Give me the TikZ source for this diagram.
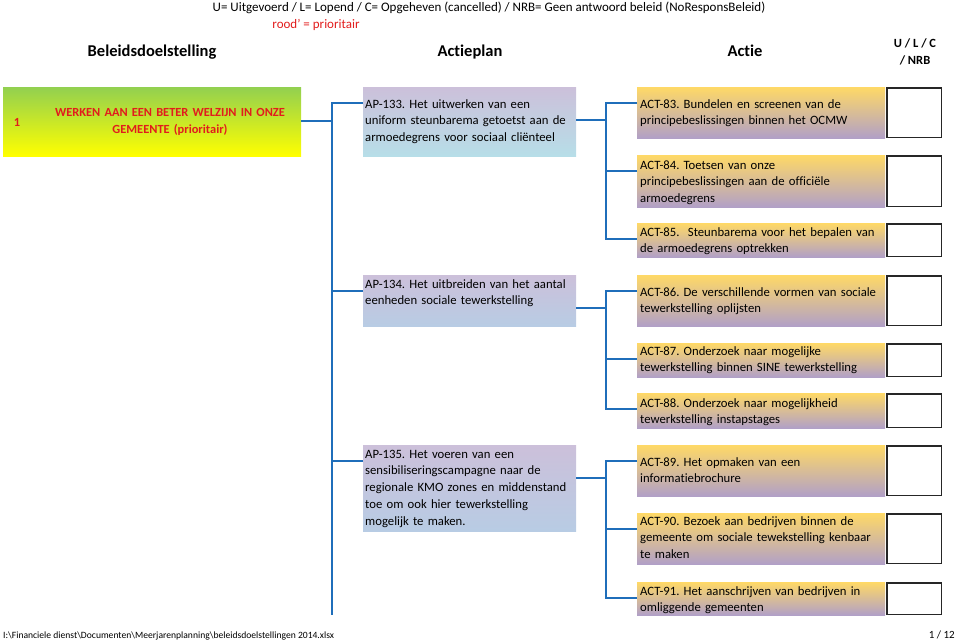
\documentclass[tikz,border=0pt]{standalone}
\usepackage{fontspec}
\setmainfont{Carlito}[Ligatures=NoCommon]
\usetikzlibrary{calc}
\definecolor{linkblue}{RGB}{31,110,186}
\definecolor{goaltop}{RGB}{146,208,80}
\definecolor{goalbot}{RGB}{255,255,0}
\definecolor{aptop}{RGB}{204,192,218}
\definecolor{apbotA}{RGB}{183,222,232}
\definecolor{apbotB}{RGB}{184,204,228}
\definecolor{acttop}{RGB}{255,217,102}
\definecolor{actbot}{RGB}{177,160,199}
\definecolor{redtxt}{RGB}{226,28,28}
\frenchspacing
\begin{document}
\begin{tikzpicture}[x=1pt,y=-1pt,
  boxbase/.style={rectangle, inner sep=0pt, outer sep=0pt, anchor=north west},
  goalbox/.style={boxbase, top color=goaltop, bottom color=goalbot},
  apboxA/.style={boxbase, minimum width=213pt, top color=aptop, bottom color=apbotA},
  apboxB/.style={boxbase, minimum width=213pt, top color=aptop, bottom color=apbotB},
  actbox/.style={boxbase, minimum width=248pt, top color=acttop, bottom color=actbot},
  checkbox/.style={boxbase, draw=black!85, line width=1.5pt, fill=white, minimum width=54.5pt},
  bodytxt/.style={anchor=base west, inner sep=0pt, align=left, text width=250pt,
    font=\fontsize{12.7}{16.8}\selectfont},
  link/.style={draw=linkblue, line width=2.6pt},
  hdr/.style={inner sep=0pt, anchor=base, font=\fontsize{16.5}{19}\selectfont\bfseries}
]
\useasboundingbox (0,0) rectangle (960,640);

% header
\node[inner sep=0pt, anchor=base, font=\fontsize{13}{15}\selectfont] (legend) at (489,11) {U= Uitgevoerd / L= Lopend / C= Opgeheven (cancelled) / NRB= Geen antwoord beleid (NoResponsBeleid)};
\node[inner sep=0pt, anchor=base, text=redtxt, font=\fontsize{13}{15}\selectfont] (rood) at (316,28) {rood' = prioritair};
\node[hdr] (h1) at (152,56) {Beleidsdoelstelling};
\node[hdr] (h2) at (470,56) {Actieplan};
\node[hdr] (h3) at (745,56) {Actie};
\node[inner sep=0pt, anchor=base, font=\fontsize{12.5}{14}\selectfont\bfseries] (h4a) at (915,47) {U / L / C};
\node[inner sep=0pt, anchor=base, font=\fontsize{12.5}{14}\selectfont\bfseries] (h4b) at (915,64) {/ NRB};

% goal
\node[goalbox, minimum width=298pt, minimum height=69pt] (goal) at (3,87) {};
\node[inner sep=0pt, anchor=base, text=redtxt, font=\fontsize{12.4}{14}\selectfont\bfseries] (goalnr) at (17,126) {1};
\node[inner sep=0pt, anchor=base, text=redtxt, text width=270pt, align=center, font=\fontsize{12.4}{17.5}\selectfont\bfseries] (goaltxt) at (170,116) {WERKEN AAN EEN BETER WELZIJN IN ONZE\\GEMEENTE (prioritair)};

% action plans
\node[apboxA, minimum height=69pt] (ap133) at (363,87) {};
\node[apboxB, minimum height=51pt] (ap134) at (363,275) {};
\node[apboxB, minimum height=86pt] (ap135) at (363,445) {};
\node[bodytxt] (t133) at (365,108) {AP-133. Het uitwerken van een\\uniform steunbarema getoetst aan de\\armoedegrens voor sociaal cliënteel};
\node[bodytxt] (t134) at (365,288) {AP-134. Het uitbreiden van het aantal\\eenheden sociale tewerkstelling};
\node[bodytxt] (t135) at (365,458) {AP-135. Het voeren van een\\sensibiliseringscampagne naar de\\regionale KMO zones en middenstand\\toe om ook hier tewerkstelling\\mogelijk te maken.};

% actions
\node[actbox, minimum height=51pt] (act83) at (637,87) {};
\node[actbox, minimum height=52pt] (act84) at (637,155) {};
\node[actbox, minimum height=34pt] (act85) at (637,223) {};
\node[actbox, minimum height=51pt] (act86) at (637,275) {};
\node[actbox, minimum height=34pt] (act87) at (637,343) {};
\node[actbox, minimum height=35pt] (act88) at (637,393) {};
\node[actbox, minimum height=51pt] (act89) at (637,445) {};
\node[actbox, minimum height=51pt] (act90) at (637,513) {};
\node[actbox, minimum height=33pt] (act91) at (637,582) {};

\node[bodytxt] (t83) at (640,108) {ACT-83. Bundelen en screenen van de\\principebeslissingen binnen het OCMW};
\node[bodytxt] (t84) at (640,169) {ACT-84. Toetsen van onze\\principebeslissingen aan de officiële\\armoedegrens};
\node[bodytxt] (t85) at (640,236) {ACT-85.\ \ Steunbarema voor het bepalen van\\de armoedegrens optrekken};
\node[bodytxt] (t86) at (640,296) {ACT-86. De verschillende vormen van sociale\\tewerkstelling oplijsten};
\node[bodytxt] (t87) at (640,355) {ACT-87. Onderzoek naar mogelijke\\tewerkstelling binnen SINE tewerkstelling};
\node[bodytxt] (t88) at (640,407) {ACT-88. Onderzoek naar mogelijkheid\\tewerkstelling instapstages};
\node[bodytxt] (t89) at (640,466) {ACT-89. Het opmaken van een\\informatiebrochure};
\node[bodytxt] (t90) at (640,525) {ACT-90. Bezoek aan bedrijven binnen de\\gemeente om sociale tewekstelling kenbaar\\te maken};
\node[bodytxt] (t91) at (640,595) {ACT-91. Het aanschrijven van bedrijven in\\omliggende gemeenten};

% check boxes
\foreach \n/\h in {83/51,84/52,85/34,86/51,87/34,88/35,89/51,90/51,91/33}{
  \node[checkbox, minimum height=\h pt-1.5pt] (cb\n) at ($(act\n.north east)+(1.75,0.75)$) {};
}

% attachment points
\foreach \n in {ap133,ap134,ap135}{
  \coordinate (\n-in) at ($(\n.north west)+(0,16)$);
  \coordinate (\n-out) at ($(\n.north east)+(0,33)$);
}
\foreach \n in {83,...,91}{
  \coordinate (act\n-in) at ($(act\n.north west)+(0,16)$);
}
\coordinate (goal-out) at ($(goal.north east)+(0,34)$);
\coordinate (trunkend) at (332,615);

% connectors
\draw[link] (goal-out) -- (goal-out -| trunkend);
\draw[link] (ap133-in) -- (ap133-in -| trunkend) -- (trunkend);
\draw[link] (ap134-in) -- (ap134-in -| trunkend);
\draw[link] (ap135-in) -- (ap135-in -| trunkend);

\draw[link] (ap133-out) -- ++(30,0);
\draw[link] (act83-in) -- ++(-31,0) |- (act85-in);
\draw[link] (act84-in) -- ++(-31,0);

\draw[link] (ap134-out) -- ++(30,0);
\draw[link] (act86-in) -- ++(-31,0) |- (act88-in);
\draw[link] (act87-in) -- ++(-31,0);

\draw[link] (ap135-out) -- ++(30,0);
\draw[link] (act89-in) -- ++(-31,0) |- (act91-in);
\draw[link] (act90-in) -- ++(-31,0);

% footer
\node[inner sep=0pt, anchor=base west, font=\fontsize{9.6}{11}\selectfont] (path) at (3,638) {I:\textbackslash Financiele dienst\textbackslash Documenten\textbackslash Meerjarenplanning\textbackslash beleidsdoelstellingen 2014.xlsx};
\node[inner sep=0pt, anchor=base east, font=\fontsize{11}{12}\selectfont] (page) at (955,638) {1 / 12};
\end{tikzpicture}
\end{document}
